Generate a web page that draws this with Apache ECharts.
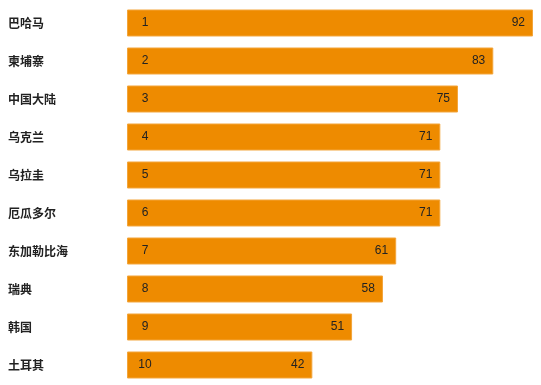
<!DOCTYPE html>
<html>
<head>
<meta charset="utf-8">
<script src="https://cdn.jsdelivr.net/npm/echarts@6/dist/echarts.min.js"></script>
<style>html,body{margin:0;padding:0;background:#fff}#c{width:541px;height:385px}</style>
</head>
<body>
<div id="c"></div>
<script>
const categories = ['巴哈马','柬埔寨','中国大陆','乌克兰','乌拉圭','厄瓜多尔','东加勒比海','瑞典','韩国','土耳其'];
const values = [92, 83, 75, 71, 71, 71, 61, 58, 51, 42];
const ranks = [1, 2, 3, 4, 5, 6, 7, 8, 9, 10];

const chart = echarts.init(document.getElementById('c'), null, {renderer: 'canvas'});
chart.setOption({
  animation: false,
  grid: {left: 127, right: 8, top: 4, bottom: 1, containLabel: false},
  xAxis: {type: 'value', min: 0, max: 92, show: false},
  yAxis: {
    type: 'category', data: categories, inverse: true,
    axisLine: {show: false}, axisTick: {show: false}, splitLine: {show: false},
    axisLabel: {align: 'left', margin: 119, color: '#222', fontSize: 12, fontWeight: 'bold',
      fontFamily: 'Noto Sans CJK SC'}
  },
  series: [
    {
      type: 'bar', data: values, barWidth: '71%',
      itemStyle: {color: '#EE8B00', borderColor: '#F3A53A', borderWidth: 1},
      label: {show: true, position: 'insideRight', distance: 8, color: '#222', fontSize: 12,
        fontFamily: 'Liberation Sans'}
    },
    {
      type: 'bar', data: values, barWidth: '71%', barGap: '-100%',
      itemStyle: {color: 'transparent'}, silent: true,
      label: {show: true, position: [18, '50%'], align: 'center', verticalAlign: 'middle',
        color: '#222', fontSize: 12, fontFamily: 'Liberation Sans',
        formatter: p => String(ranks[p.dataIndex])}
    }
  ]
});
</script>
</body>
</html>
